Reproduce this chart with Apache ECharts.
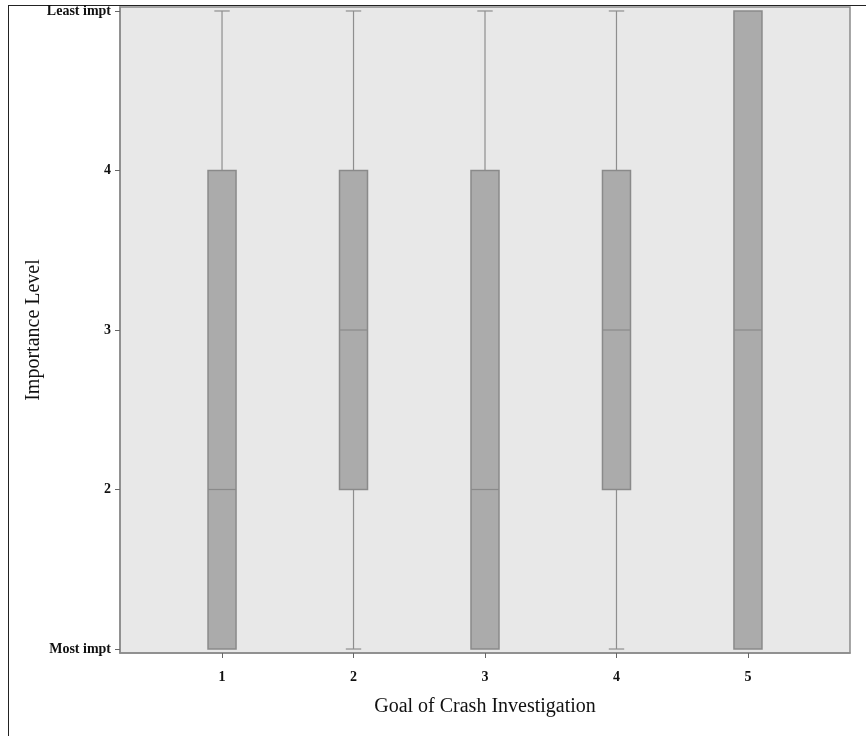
<!DOCTYPE html>
<html><head><meta charset="utf-8">
<script src="https://cdn.jsdelivr.net/npm/echarts@6/dist/echarts.min.js"></script>
<style>
html,body{margin:0;padding:0;background:#fff;overflow:hidden;}
#frame{position:absolute;left:8px;top:5px;width:900px;height:800px;border-left:1.5px solid #222;border-top:1.5px solid #222;}
#chart{position:absolute;left:0;top:0;width:866px;height:736px;}
</style></head><body>
<div id="frame"></div>
<div id="chart"></div>
<script>
// Data
const categories = [1, 2, 3, 4, 5];
const minVals    = [1, 1, 1, 1, 1];
const q1Vals     = [1, 2, 1, 2, 1];
const medianVals = [2, 3, 2, 3, 3];
const q3Vals     = [4, 4, 4, 4, 5];
const maxVals    = [5, 5, 5, 5, 5];
const yTickValues = [1, 2, 3, 4, 5];
const yTickLabels = {1: 'Most impt', 2: '2', 3: '3', 4: '4', 5: 'Least impt'};

const rows = categories.map((c, i) => [c, minVals[i], q1Vals[i], medianVals[i], q3Vals[i], maxVals[i]]);

const chart = echarts.init(document.getElementById('chart'), null, {renderer: 'canvas'});
const serif = '"Liberation Serif", "DejaVu Serif", "Times New Roman", serif';
const BOX_W = 0.213;
const lineColor = '#8e8e8e';

chart.setOption({
  backgroundColor: 'transparent',
  animation: false,
  grid: {
    left: 120, right: 16, top: 7, bottom: 83,
    show: true, backgroundColor: '#e8e8e8', borderColor: '#8a8a8a', borderWidth: 1.5
  },
  xAxis: {
    type: 'value', min: 0.224, max: 5.776,
    name: 'Goal of Crash Investigation', nameLocation: 'middle', nameGap: 44, nameMoveOverlap: false,
    nameTextStyle: {fontFamily: serif, fontSize: 20, color: '#111'},
    splitLine: {show: false},
    axisLine: {show: true, onZero: false, lineStyle: {color: '#8a8a8a', width: 1.5}},
    axisTick: {show: true, length: 5, customValues: categories, lineStyle: {color: '#666'}},
    axisLabel: {customValues: categories, margin: 17, fontFamily: serif, fontSize: 14, fontWeight: 'bold', color: '#111',
      formatter: v => String(v)}
  },
  yAxis: {
    type: 'value', min: 0.975, max: 5.025,
    name: 'Importance Level', nameLocation: 'middle', nameGap: 76, nameRotate: 90, nameMoveOverlap: false,
    nameTextStyle: {fontFamily: serif, fontSize: 20, color: '#111'},
    splitLine: {show: false},
    axisLine: {show: true, onZero: false, lineStyle: {color: '#8a8a8a', width: 1.5}},
    axisTick: {show: true, length: 5, customValues: yTickValues, lineStyle: {color: '#666'}},
    axisLabel: {customValues: yTickValues, margin: 9, fontFamily: serif, fontSize: 14, fontWeight: 'bold', color: '#111',
      formatter: v => yTickLabels[Math.round(v)] || ''}
  },
  series: [{
    type: 'custom',
    data: rows,
    encode: {x: 0, y: [1, 2, 3, 4, 5]},
    renderItem: function (params, api) {
      const x = api.value(0);
      const pMin = api.coord([x, api.value(1)]);
      const pQ1 = api.coord([x, api.value(2)]);
      const pMed = api.coord([x, api.value(3)]);
      const pQ3 = api.coord([x, api.value(4)]);
      const pMax = api.coord([x, api.value(5)]);
      const w = api.size([BOX_W, 0])[0];
      const cap = w * 0.55;
      const children = [];
      const ls = {stroke: lineColor, lineWidth: 1.2};
      if (api.value(1) < api.value(2)) {
        children.push({type: 'line', shape: {x1: pMin[0], y1: pMin[1], x2: pQ1[0], y2: pQ1[1]}, style: ls});
        children.push({type: 'line', shape: {x1: pMin[0] - cap / 2, y1: pMin[1], x2: pMin[0] + cap / 2, y2: pMin[1]}, style: ls});
      }
      if (api.value(5) > api.value(4)) {
        children.push({type: 'line', shape: {x1: pMax[0], y1: pMax[1], x2: pQ3[0], y2: pQ3[1]}, style: ls});
        children.push({type: 'line', shape: {x1: pMax[0] - cap / 2, y1: pMax[1], x2: pMax[0] + cap / 2, y2: pMax[1]}, style: ls});
      }
      children.push({type: 'rect', shape: {x: pQ3[0] - w / 2, y: pQ3[1], width: w, height: pQ1[1] - pQ3[1]},
        style: {fill: '#ababab', stroke: '#8a8a8a', lineWidth: 1.5}});
      children.push({type: 'line', shape: {x1: pMed[0] - w / 2, y1: pMed[1], x2: pMed[0] + w / 2, y2: pMed[1]},
        style: {stroke: '#8a8a8a', lineWidth: 1.2}});
      return {type: 'group', children: children};
    }
  }]
});
</script>
</body></html>
